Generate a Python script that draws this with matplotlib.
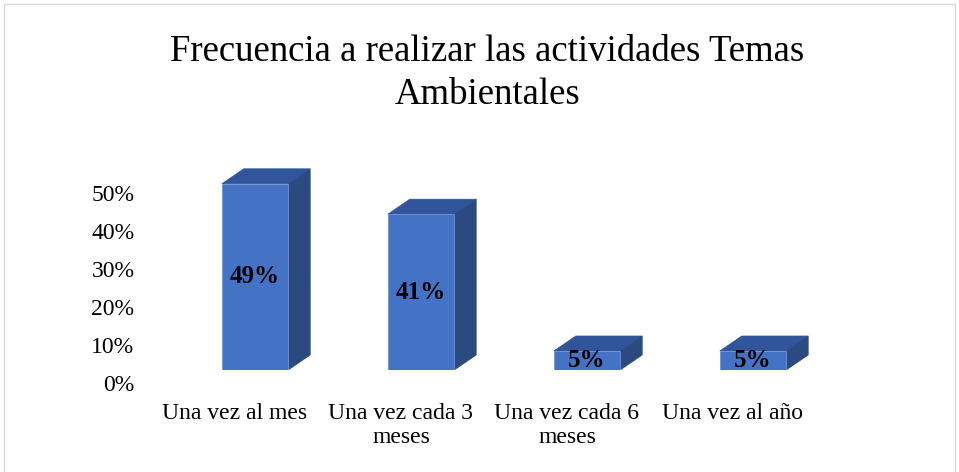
import matplotlib
matplotlib.use("Agg")
import matplotlib.pyplot as plt
from matplotlib.patches import Polygon, Rectangle
from matplotlib.transforms import ScaledTranslation

plt.rcParams["font.family"] = ["Liberation Serif", "DejaVu Serif"]

# ---------------------------------------------------------------------------
# Data
# ---------------------------------------------------------------------------
TITLE = "Frecuencia a realizar las actividades Temas\nAmbientales"
categories = ["Una vez al mes", "Una vez cada 3\nmeses", "Una vez cada 6\nmeses", "Una vez al año"]
values = [49, 41, 5, 5]
value_labels = ["49%", "41%", "5%", "5%"]
yticks = [0, 10, 20, 30, 40, 50]
ytick_labels = ["0%", "10%", "20%", "30%", "40%", "50%"]

FRONT = "#4472c4"
TOP = "#30559a"
SIDE = "#2b4a80"

W, H, DPI = 959, 472, 100
fig = plt.figure(figsize=(W / DPI, H / DPI), dpi=DPI)
fig.patch.set_facecolor("white")

# light frame around the chart area
fig.patches.append(Rectangle((4 / W, -0.01), (W - 8) / W, (H - 4) / H + 0.01,
                             transform=fig.transFigure, fill=False,
                             edgecolor="#d9d9d9", linewidth=1))

# axes placement in pixels: category spacing 166 px, 10% = 38 px
step, px10 = 166, 38.0
ymax = 55
left, right = 255 - step / 2, 255 + step * 3.5
base = 370
ax = fig.add_axes([left / W, (H - base) / H, (right - left) / W, ymax * px10 / 10 / H])
ax.set_xlim(-0.5, 3.5)
ax.set_ylim(0, ymax)
for s in ax.spines.values():
    s.set_visible(False)
ax.patch.set_alpha(0)

bar_w = 0.4
dx = 22 / step
dy = 15 / (px10 / 10)

xs = list(range(len(values)))
ax.bar(xs, values, width=bar_w, color=FRONT, edgecolor="#6f93d6", linewidth=0.6, zorder=3)
for x, v, lab in zip(xs, values, value_labels):
    x0, x1 = x - bar_w / 2, x + bar_w / 2
    ax.add_patch(Polygon([(x0, v), (x1, v), (x1 + dx, v + dy), (x0 + dx, v + dy)],
                         closed=True, facecolor=TOP, edgecolor=TOP, linewidth=0.5, zorder=2))
    ax.add_patch(Polygon([(x1, 0), (x1 + dx, dy), (x1 + dx, v + dy), (x1, v)],
                         closed=True, facecolor=SIDE, edgecolor=SIDE, linewidth=0.5, zorder=2))
    ax.text(x, v / 2, lab, ha="center", va="center", fontsize=18,
            fontweight="bold", color="black", zorder=4)

ax.set_yticks(yticks)
ax.set_yticklabels(ytick_labels)
ax.set_xticks(xs)
ax.set_xticklabels(categories, linespacing=1.18)
ax.tick_params(axis="y", length=0, pad=27, labelsize=17)
ax.tick_params(axis="x", length=0, pad=24, labelsize=17)

# tick labels sit slightly off the bars as in the 3D original
for lbl in ax.get_yticklabels():
    lbl.set_transform(lbl.get_transform() + ScaledTranslation(0, -13 / DPI, fig.dpi_scale_trans))
for lbl in ax.get_xticklabels():
    lbl.set_transform(lbl.get_transform() + ScaledTranslation(-20 / DPI, 0, fig.dpi_scale_trans))

fig.text(487 / W, 1 - 73 / H, TITLE, ha="center", va="center", fontsize=26.5,
         linespacing=1.32, color="black")

fig.savefig("out.png", dpi=DPI, facecolor="white")
